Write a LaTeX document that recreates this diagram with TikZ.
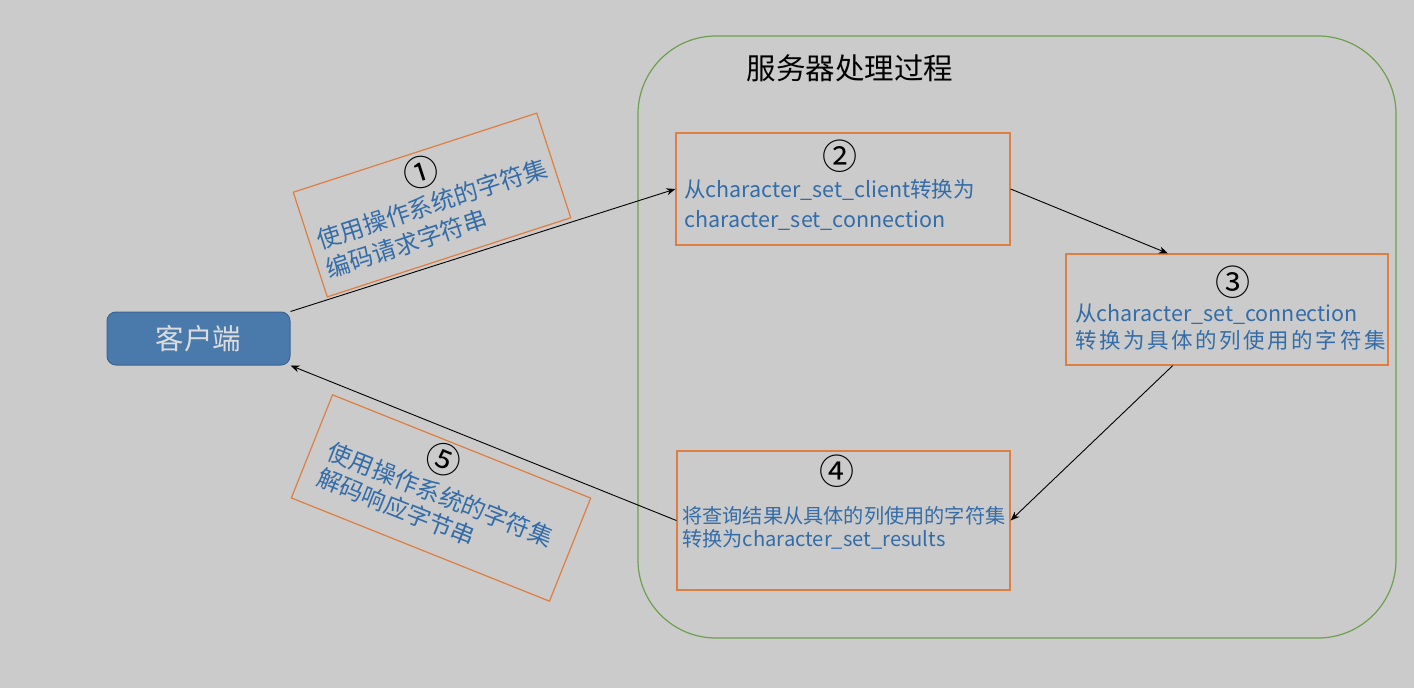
\documentclass[tikz,border=0pt]{standalone}
\usepackage{fontspec}
\setmainfont{Noto Sans CJK SC}
\usetikzlibrary{arrows.meta,calc}
\definecolor{bg}{RGB}{203,203,203}
\definecolor{boxorange}{RGB}{222,126,66}
\definecolor{txtblue}{RGB}{52,108,168}
\definecolor{framegreen}{RGB}{110,160,80}
\definecolor{clientfill}{RGB}{74,122,172}
\definecolor{clientdraw}{RGB}{60,100,145}
\definecolor{clienttxt}{RGB}{220,220,220}
\tikzset{
  stepbox/.style={draw=boxorange, line width=1.2pt, inner sep=0pt},
  numtxt/.style={inner sep=0pt, font=\fontsize{35}{38}\selectfont, text=black},
  bluetxt/.style={inner sep=0pt, align=left, text=txtblue, anchor=west},
  conn/.style={draw=black, line width=0.9pt, -{Stealth[length=9pt,width=7pt]}},
}
\begin{document}
\begin{tikzpicture}[x=1pt,y=-1pt]
\fill[bg] (0,0) rectangle (1414,688);
\useasboundingbox (0,0) rectangle (1414,688);

% server frame
\draw[framegreen, line width=1.2pt, rounded corners=78pt] (638,36) rectangle (1396,638);
\node[inner sep=0pt, font=\fontsize{29.5}{32}\selectfont] (title) at (850,68) {服务器处理过程};

% client
\node[draw=clientdraw, fill=clientfill, rounded corners=9pt, line width=1pt,
      minimum width=183pt, minimum height=53pt, inner sep=0pt,
      text=clienttxt, font=\fontsize{28.5}{32}\selectfont] (client) at (198.5,338.5) {客户端};

% box 2
\node[stepbox, minimum width=334pt, minimum height=112pt] (b2) at (843,189) {};
\node[numtxt] (n2) at (840,156) {②};
\node[bluetxt, font=\fontsize{21.5}{30}\selectfont] (t2) at (684,205) {从character\_set\_client转换为\\character\_set\_connection};

% box 3
\node[stepbox, minimum width=322pt, minimum height=111pt] (b3) at (1227,309.5) {};
\node[numtxt] (n3) at (1233,282) {③};
\node[bluetxt, font=\fontsize{21.5}{27}\selectfont] (t3) at (1075,327) {从character\_set\_connection\\{\addfontfeature{LetterSpace=12}转换为具体的列使用的字符集}};

% box 4
\node[stepbox, minimum width=333pt, minimum height=139pt] (b4) at (843.5,520.5) {};
\node[numtxt] (n4) at (837,471) {④};
\node[bluetxt, font=\fontsize{20.2}{23}\selectfont] (t4) at (682,528) {将查询结果从具体的列使用的字符集\\转换为character\_set\_results};

% box 1 (rotated)
\begin{scope}[shift={(432,205)}, rotate=18, transform shape]
  \node[stepbox, minimum width=256pt, minimum height=110pt] (b1) at (0,0) {};
  \node[numtxt] (n1) at (0,-34) {①};
  \node[bluetxt, font=\fontsize{24}{30}\selectfont] (t1) at (-120,14) {使用操作系统的字符集\\编码请求字符串};
\end{scope}

% box 5 (rotated)
\begin{scope}[shift={(441,498)}, rotate=-21.8, transform shape]
  \node[stepbox, minimum width=278pt, minimum height=111pt] (b5) at (0,0) {};
  \node[numtxt] (n5) at (-12,-37) {⑤};
  \node[bluetxt, font=\fontsize{24}{28}\selectfont] (t5) at (-122,11) {使用操作系统的字符集\\解码响应字节串};
\end{scope}

% connectors
\draw[conn] (client.north east) -- (b2.west);
\draw[conn] (b2.east) -- ($(b3.north west)!0.317!(b3.north east)$);
\draw[conn] ($(b3.south west)!0.332!(b3.south east)$) -- (b4.east);
\draw[conn] (b4.west) -- (client.south east);
\end{tikzpicture}
\end{document}
